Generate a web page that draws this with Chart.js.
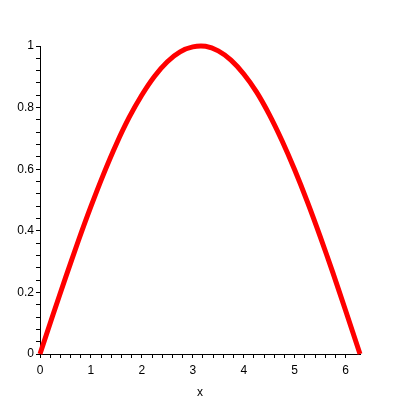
<!DOCTYPE html>
<html>
<head>
<meta charset="utf-8">
<script src="https://cdn.jsdelivr.net/npm/chart.js@4"></script>
<style>
  html, body { margin: 0; padding: 0; background: #fff; }
  #wrap { width: 400px; height: 400px; }
</style>
</head>
<body>
<div id="wrap"><canvas id="plot" width="400" height="400"></canvas></div>
<script>
// x samples and curve values
const xValues = [0, 0.25, 0.5, 0.75, 1, 1.25, 1.5, 1.75, 2, 2.25, 2.5, 2.75, 3, 3.25,
                 3.5, 3.75, 4, 4.25, 4.5, 4.75, 5, 5.25, 5.5, 5.75, 6, 6.283];
const yValues = [0, 0.125, 0.247, 0.366, 0.479, 0.585, 0.682, 0.768, 0.841, 0.902, 0.949, 0.981, 0.997, 0.999,
                 0.984, 0.954, 0.909, 0.851, 0.778, 0.693, 0.598, 0.494, 0.382, 0.264, 0.141, 0];
const xTickLabels = ["0", "1", "2", "3", "4", "5", "6"];
const yTickLabels = ["0", "0.2", "0.4", "0.6", "0.8", "1"];

const FONT = { family: 'Liberation Sans, Arial, sans-serif', size: 12 };

function isMultiple(v, step) {
    const r = v / step;
    return Math.abs(r - Math.round(r)) < 1e-6;
}

const points = xValues.map((x, i) => ({ x: x, y: yValues[i] }));

new Chart(document.getElementById('plot').getContext('2d'), {
    type: 'line',
    data: {
        datasets: [{
            data: points,
            borderColor: '#ff0000',
            borderWidth: 5,
            pointRadius: 0,
            tension: 0.3,
            clip: false,
            fill: false
        }]
    },
    options: {
        responsive: false,
        animation: false,
        devicePixelRatio: 1,
        layout: { padding: { top: 46, right: 40, left: 0, bottom: 0 } },
        plugins: { legend: { display: false }, tooltip: { enabled: false } },
        scales: {
            x: {
                type: 'linear',
                min: 0,
                max: 6.283,
                border: { color: '#000', width: 1 },
                grid: { drawOnChartArea: false, drawTicks: true, tickLength: 4, color: '#000' },
                afterBuildTicks: (scale) => {
                    scale.ticks = scale.ticks.filter(t => isMultiple(t.value, 0.2));
                },
                ticks: {
                    stepSize: 0.2,
                    autoSkip: false,
                    maxRotation: 0,
                    color: '#000',
                    font: FONT,
                    padding: 5,
                    callback: (v) => isMultiple(v, 1) ? xTickLabels[Math.round(v)] : ''
                },
                title: { display: true, text: 'x', color: '#000', font: FONT, padding: { top: 5, bottom: 0 } },
                afterFit: (scale) => { scale.height = 46; }
            },
            y: {
                type: 'linear',
                min: 0,
                max: 1,
                border: { color: '#000', width: 1 },
                grid: { drawOnChartArea: false, drawTicks: true, tickLength: 4, color: '#000' },
                afterBuildTicks: (scale) => {
                    scale.ticks = scale.ticks.filter(t => isMultiple(t.value, 0.04));
                },
                ticks: {
                    stepSize: 0.04,
                    autoSkip: false,
                    color: '#000',
                    font: FONT,
                    padding: 2,
                    callback: (v) => isMultiple(v, 0.2) ? yTickLabels[Math.round(v / 0.2)] : ''
                },
                afterFit: (scale) => { scale.width = 40; }
            }
        }
    }
});
</script>
</body>
</html>
